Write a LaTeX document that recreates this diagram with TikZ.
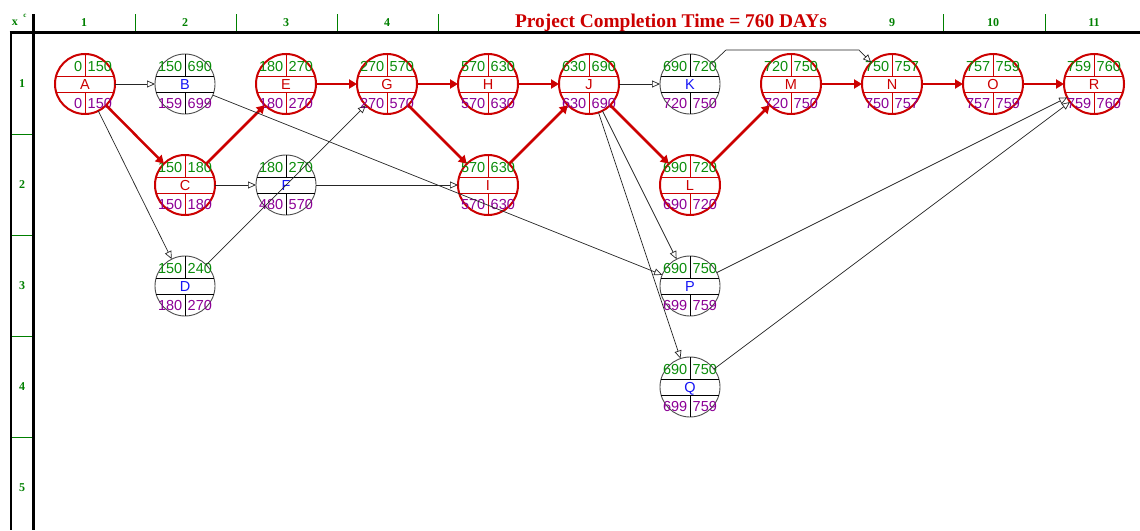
\documentclass[tikz,border=0pt]{standalone}
\usepackage{fontspec}
\setmainfont{Liberation Serif}
\newfontfamily\nodefont{Liberation Sans}
\usetikzlibrary{arrows.meta}

\definecolor{critred}{RGB}{204,0,0}
\definecolor{esgreen}{RGB}{10,140,10}
\definecolor{lspurple}{RGB}{140,0,150}
\definecolor{actblue}{RGB}{20,20,245}
\definecolor{rulegreen}{RGB}{0,128,0}

\tikzset{
  act/.style={circle, minimum size=60pt, inner sep=0pt, outer sep=0pt},
  actcrit/.style={act, draw=critred, line width=2pt},
  actnorm/.style={act, draw=black!70, line width=0.9pt},
  divcrit/.style={draw=critred, line width=0.9pt},
  divnorm/.style={draw=black, line width=0.9pt},
  numtxt/.style={inner sep=0pt, font=\nodefont\fontsize{14.5}{14.5}\selectfont},
  lettxtcrit/.style={numtxt, text=critred},
  lettxtnorm/.style={numtxt, text=actblue},
  critedge/.style={draw=critred, line width=2.5pt, -{Triangle[length=8pt,width=9pt]}},
  normedge/.style={draw=black!85, line width=0.7pt, -{Triangle[open,length=8pt,width=7pt]}},
  rulelabel/.style={text=rulegreen, inner sep=0pt, font=\bfseries\fontsize{12}{12}\selectfont},
  ruletick/.style={draw=rulegreen, line width=0.8pt},
  frame/.style={draw=black, line width=3pt},
}

% activity: name, x, y, id, ES, EF, LS, LF, kind (crit/norm)
\newcommand\activity[9]{%
  \begin{scope}[shift={(#2,#3)}]
    \node[act#9] (#1) at (0,0) {};
    \draw[div#9] (-28.9,-8) -- (28.9,-8) (-28.9,8) -- (28.9,8)
                 (0,-30) -- (0,-8) (0,8) -- (0,30);
    \node[numtxt, text=esgreen, anchor=base east] (#1-es) at (-2.5,-13) {#5};
    \node[numtxt, text=esgreen, anchor=base west] (#1-ef) at (2.5,-13) {#6};
    \node[lettxt#9, anchor=base] (#1-id) at (0,5.5) {#4};
    \node[numtxt, text=lspurple, anchor=base east] (#1-ls) at (-2.5,24) {#7};
    \node[numtxt, text=lspurple, anchor=base west] (#1-lf) at (2.5,24) {#8};
  \end{scope}}

\begin{document}
\begin{tikzpicture}[x=1pt,y=-1pt]
\useasboundingbox[fill=white] (0,0) rectangle (1140,530);

% rulers and frame
\foreach \tx in {135,236,337,438,943,1045}
  \draw[ruletick] (\tx,14) -- (\tx,32);
\foreach \ty in {134,235,336,437}
  \draw[ruletick] (11,\ty) -- (33,\ty);
\foreach \c/\cx in {1/84,2/185,3/286,4/387,9/892,10/993,11/1094}
  \node[rulelabel] (col\c) at (\cx,23) {\c};
\foreach \r/\ry in {1/84,2/185,3/286,4/387,5/488}
  \node[rulelabel] (row\r) at (22,\ry) {\r};
\node[rulelabel] (corner-x) at (15,23) {x};
\node[rulelabel, font=\bfseries\fontsize{7}{7}\selectfont] (corner-c) at (25,16) {c};
\draw[frame] (9.5,32.5) -- (1140,32.5);
\draw[frame] (33,14) -- (33,530);
\draw[draw=black, line width=2pt] (11,32.5) -- (11,530);

\node[text=critred, inner sep=0pt, anchor=base, font=\bfseries\fontsize{19.4}{19.4}\selectfont] (title)
  at (671,27.5) {Project Completion Time = 760 DAYs};

% activities
\activity{A}{85}{84}{A}{0}{150}{0}{150}{crit}
\activity{B}{185}{84}{B}{150}{690}{159}{699}{norm}
\activity{C}{185}{185}{C}{150}{180}{150}{180}{crit}
\activity{D}{185}{286}{D}{150}{240}{180}{270}{norm}
\activity{E}{286}{84}{E}{180}{270}{180}{270}{crit}
\activity{F}{286}{185}{F}{180}{270}{480}{570}{norm}
\activity{G}{387}{84}{G}{270}{570}{270}{570}{crit}
\activity{H}{488}{84}{H}{570}{630}{570}{630}{crit}
\activity{I}{488}{185}{I}{570}{630}{570}{630}{crit}
\activity{J}{589}{84}{J}{630}{690}{630}{690}{crit}
\activity{K}{690}{84}{K}{690}{720}{720}{750}{norm}
\activity{L}{690}{185}{L}{690}{720}{690}{720}{crit}
\activity{M}{791}{84}{M}{720}{750}{720}{750}{crit}
\activity{N}{892}{84}{N}{750}{757}{750}{757}{crit}
\activity{O}{993}{84}{O}{757}{759}{757}{759}{crit}
\activity{P}{690}{286}{P}{690}{750}{699}{759}{norm}
\activity{Q}{690}{387}{Q}{690}{750}{699}{759}{norm}
\activity{R}{1094}{84}{R}{759}{760}{759}{760}{crit}

% critical path
\draw[critedge] (A) -- (C);
\draw[critedge] (C) -- (E);
\draw[critedge] (E) -- (G);
\draw[critedge] (G) -- (H);
\draw[critedge] (G) -- (I);
\draw[critedge] (H) -- (J);
\draw[critedge] (I) -- (J);
\draw[critedge] (J) -- (L);
\draw[critedge] (L) -- (M);
\draw[critedge] (M) -- (N);
\draw[critedge] (N) -- (O);
\draw[critedge] (O) -- (R);

% other dependencies
\coordinate (kn1) at (726,50);
\coordinate (kn2) at (859,50);
\draw[normedge] (A) -- (B);
\draw[normedge] (A) -- (D);
\draw[normedge] (B) -- (P);
\draw[normedge] (C) -- (F);
\draw[normedge] (D) -- (G);
\draw[normedge] (F) -- (I);
\draw[normedge] (J) -- (K);
\draw[normedge] (J) -- (P);
\draw[normedge] (J) -- (Q);
\draw[normedge] (K) -- (kn1) -- (kn2) -- (N);
\draw[normedge] (P) -- (R);
\draw[normedge] (Q) -- (R);
\end{tikzpicture}
\end{document}
